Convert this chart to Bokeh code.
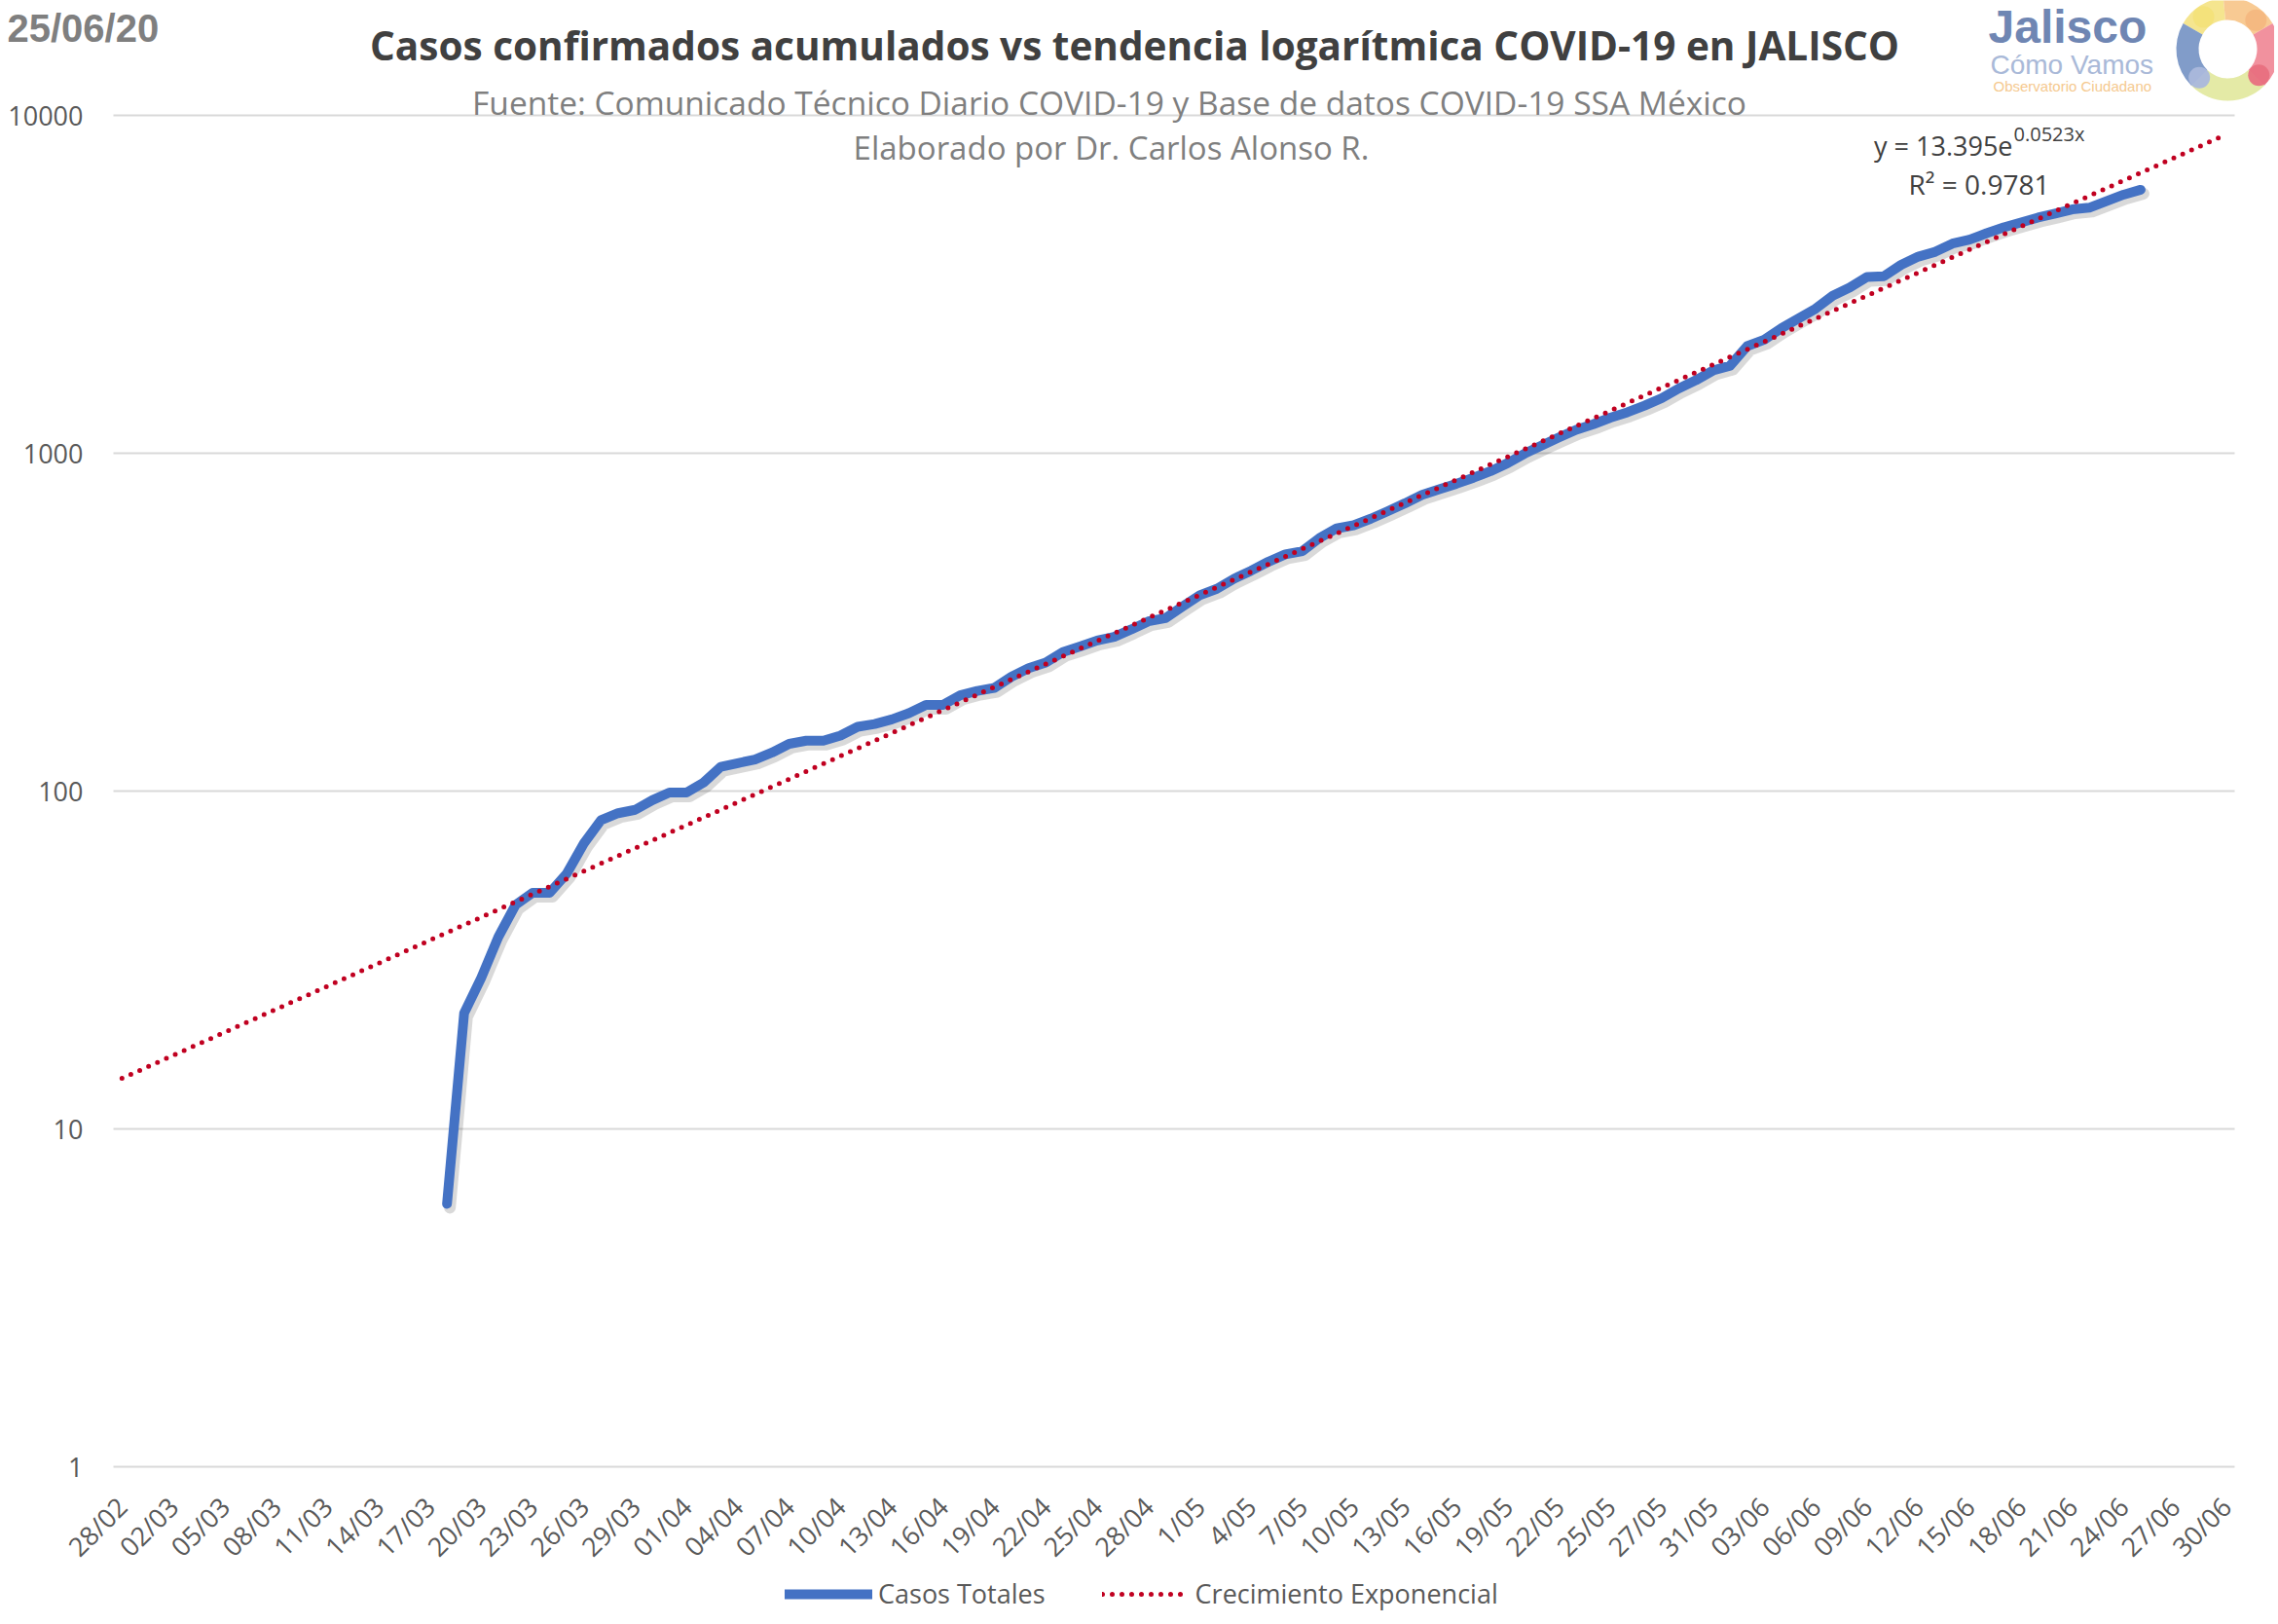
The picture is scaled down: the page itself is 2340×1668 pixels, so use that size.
import numpy as np
import pandas as pd
from math import pi
from bokeh.plotting import figure
from bokeh.layouts import column
from bokeh.models import Range1d, FixedTicker, Label, Legend, LegendItem, NumeralTickFormatter
from bokeh.embed import file_html
from bokeh.resources import INLINE

# ---------------- data ----------------
fechas = pd.date_range("2020-02-28", "2020-06-30", freq="D").strftime("%d/%m").tolist()  # 124 categorías
tick_labels = ["28/02", "02/03", "05/03", "08/03", "11/03", "14/03", "17/03", "20/03", "23/03",
               "26/03", "29/03", "01/04", "04/04", "07/04", "10/04", "13/04", "16/04", "19/04",
               "22/04", "25/04", "28/04", "1/05", "4/05", "7/05", "10/05", "13/05", "16/05",
               "19/05", "22/05", "25/05", "27/05", "31/05", "03/06", "06/06", "09/06", "12/06",
               "15/06", "18/06", "21/06", "24/06", "27/06", "30/06"]
casos_inicio = "18/03"
casos_totales = [6, 22, 28, 37, 46, 50, 50, 57, 70, 82,
                 86, 88, 94, 99, 99, 106, 118, 121, 124, 130,
                 138, 141, 141, 146, 155, 158, 163, 170, 180, 180,
                 192, 198, 202, 218, 231, 240, 258, 268, 279, 286,
                 301, 318, 325, 352, 380, 397, 425, 449, 477, 502,
                 513, 561, 599, 612, 640, 674, 711, 753, 782, 812,
                 846, 885, 935, 998, 1055, 1114, 1173, 1218, 1274, 1322,
                 1383, 1455, 1555, 1644, 1757, 1816, 2075, 2168, 2343, 2505,
                 2678, 2925, 3093, 3325, 3342, 3611, 3818, 3947, 4174, 4288,
                 4480, 4663, 4820, 4983, 5118, 5270, 5330, 5574, 5825, 6022]
# tendencia exponencial publicada en el gráfico: y = 13.395 e^(0.0523 x)
trend_a = 13.395
trend_b = 0.0523
r2 = 0.9781
y_ticks = [1, 10, 100, 1000, 10000]

# ---------------- geometry helpers (reference pixel -> data) ----------------
PX_CAT = 17.573     # px per category
PX_DEC = 347.0      # px per decade
LEFT_PX = 116       # left edge of plot area
TOP10K_PX = 118     # y of 10000 gridline


def fx(px):
    return -0.5 + (px - LEFT_PX) / PX_CAT


def fy(py):
    return 10 ** (4 - (py - TOP10K_PX) / PX_DEC)


W = 2336
H_MAIN = 1530          # main frame: from top of page to a bit below the "1" gridline
H_BOTTOM = 134         # strip with the date labels and the legend
x_range = Range1d(fx(0), fx(W))
y0, y1 = fy(H_MAIN), fy(0)

p = figure(width=W, height=H_MAIN, y_axis_type="log",
           x_range=x_range, y_range=Range1d(y0, y1),
           output_backend="svg", toolbar_location=None, title=None,
           x_axis_location=None, min_border=0,
           background_fill_color="white", border_fill_color="white")
p.outline_line_color = None

# grid
p.xgrid.visible = False
p.ygrid.grid_line_color = "#d9d9d9"
p.ygrid.grid_line_width = 2
p.ygrid.cross_bounds = (-0.5, len(fechas) - 0.5)
p.ygrid.minor_grid_line_color = None

# y axis pinned at the left edge of the plotting area
p.yaxis.fixed_location = -0.5
p.yaxis.ticker = FixedTicker(ticks=y_ticks)
p.yaxis.formatter = NumeralTickFormatter(format="0")
p.yaxis.axis_line_color = None
p.yaxis.major_tick_line_color = None
p.yaxis.minor_tick_line_color = None
p.yaxis.major_label_text_font = "Open Sans"
p.yaxis.major_label_text_font_size = "27px"
p.yaxis.major_label_text_color = "#595959"
p.yaxis.major_label_standoff = 25

# series
start = fechas.index(casos_inicio)
xc = np.arange(start, start + len(casos_totales))
yc = np.array(casos_totales, dtype=float)

xt = np.arange(len(fechas))
yt = trend_a * np.exp(trend_b * (xt + 1))

BLUE = dict(line_color="#4472C4", line_width=10, line_join="round", line_cap="round")
RED = dict(line_color="#C00020", line_width=5, line_dash="0 10", line_cap="round")

# soft shadow under the blue line
p.line(xc + 3 / PX_CAT, yc * 10 ** (-4 / PX_DEC), line_color="black", line_alpha=0.15,
       line_width=12, line_join="round", line_cap="round")
p.line(xc, yc, **BLUE)
p.line(xt, yt, **RED)


# texts
def lab(px, py, text, size, color, font="Open Sans", style="normal", align="center"):
    p.add_layout(Label(x=fx(px), y=fy(py), text=text, text_font=font, text_font_size=size,
                       text_color=color, text_font_style=style, text_align=align,
                       text_baseline="middle"))


lab(7, 28, "25/06/20", "40px", "#7f7f7f", font="Liberation Sans", style="bold", align="left")
lab(1165, 46, "Casos confirmados acumulados vs tendencia logarítmica COVID-19 en JALISCO",
    "40.5px", "#404040", style="bold")
lab(1139, 104, "Fuente: Comunicado Técnico Diario COVID-19 y Base de datos COVID-19 SSA México",
    "33.5px", "#7f7f7f")
lab(1141, 151, "Elaborado por Dr. Carlos Alonso R.", "33px", "#7f7f7f")
lab(2067, 149, f"y = {trend_a}e", "27px", "#404040", align="right")
lab(2068, 137, f"{trend_b}x", "20px", "#404040", align="left")
lab(1960, 188, f"R² = {r2}", "28px", "#404040", align="left")

# logo
lab(2042, 27, "Jalisco", "48px", "#6f86b3", font="Liberation Sans", style="bold", align="left")
lab(2044, 66, "Cómo Vamos", "28px", "#a9b9d8", font="Liberation Sans", align="left")
lab(2047, 88, "Observatorio Ciudadano", "15px", "#f5c98f", font="Liberation Sans", align="left")

cx, cy = fx(2288), fy(50)
seg_start = [95, 30, -45, -135, 150]
seg_end = [150, 95, 30, -45, 225]
seg_col = ["#f4e283", "#f7c487", "#f08593", "#e1e89c", "#7391c3"]
p.annular_wedge(x=[cx] * 5, y=[cy] * 5, inner_radius=30, outer_radius=53,
                inner_radius_units="screen", outer_radius_units="screen",
                start_angle=np.radians(seg_start), end_angle=np.radians(seg_end),
                fill_color=seg_col, line_color=None, fill_alpha=0.9)
dot_ang = np.radians([127, 46, -40, -135])
dot_col = ["#f3e27a", "#f4b77f", "#e8707f", "#aab8dc"]
p.scatter(x=cx + 41.5 * np.cos(dot_ang) / PX_CAT, y=cy * 10 ** (41.5 * np.sin(dot_ang) / PX_DEC),
          size=22, color=dot_col, line_color=None, alpha=0.95)

# ---------------- bottom strip: category axis + legend ----------------
q = figure(width=W, height=H_BOTTOM, x_range=x_range, y_range=Range1d(0, H_BOTTOM),
           output_backend="svg", toolbar_location=None, title=None, min_border=0,
           y_axis_location=None,
           background_fill_color="white", border_fill_color="white")
q.outline_line_color = None
q.grid.visible = False

tick_idx = list(range(0, len(fechas), 3))
q.xaxis.fixed_location = H_BOTTOM
q.xaxis.ticker = FixedTicker(ticks=tick_idx)
q.xaxis.major_label_overrides = {i: lab for i, lab in zip(tick_idx, tick_labels)}
q.xaxis.major_label_orientation = pi / 4
q.xaxis.axis_line_color = None
q.xaxis.major_tick_line_color = None
q.xaxis.minor_tick_line_color = None
q.xaxis.major_label_text_font = "Open Sans"
q.xaxis.major_label_text_font_size = "27px"
q.xaxis.major_label_text_color = "#595959"
q.xaxis.major_label_standoff = 6

# off-canvas copies of both series, used only for the legend samples
lb = q.line(xc, yc * 0 - 50, **BLUE)
lr = q.line(xt, yt * 0 - 50, **RED)
legend = Legend(items=[LegendItem(label="Casos Totales", renderers=[lb]),
                       LegendItem(label="Crecimiento Exponencial", renderers=[lr])],
                orientation="horizontal", location=(806, 9),
                glyph_width=90, glyph_height=26, label_standoff=6, spacing=58,
                padding=0, margin=0, border_line_color=None, background_fill_alpha=0,
                label_text_font="Open Sans", label_text_font_size="27px",
                label_text_color="#595959")
q.add_layout(legend)

layout = column(p, q, spacing=0)
open("out.html", "w").write(file_html(layout, INLINE))
